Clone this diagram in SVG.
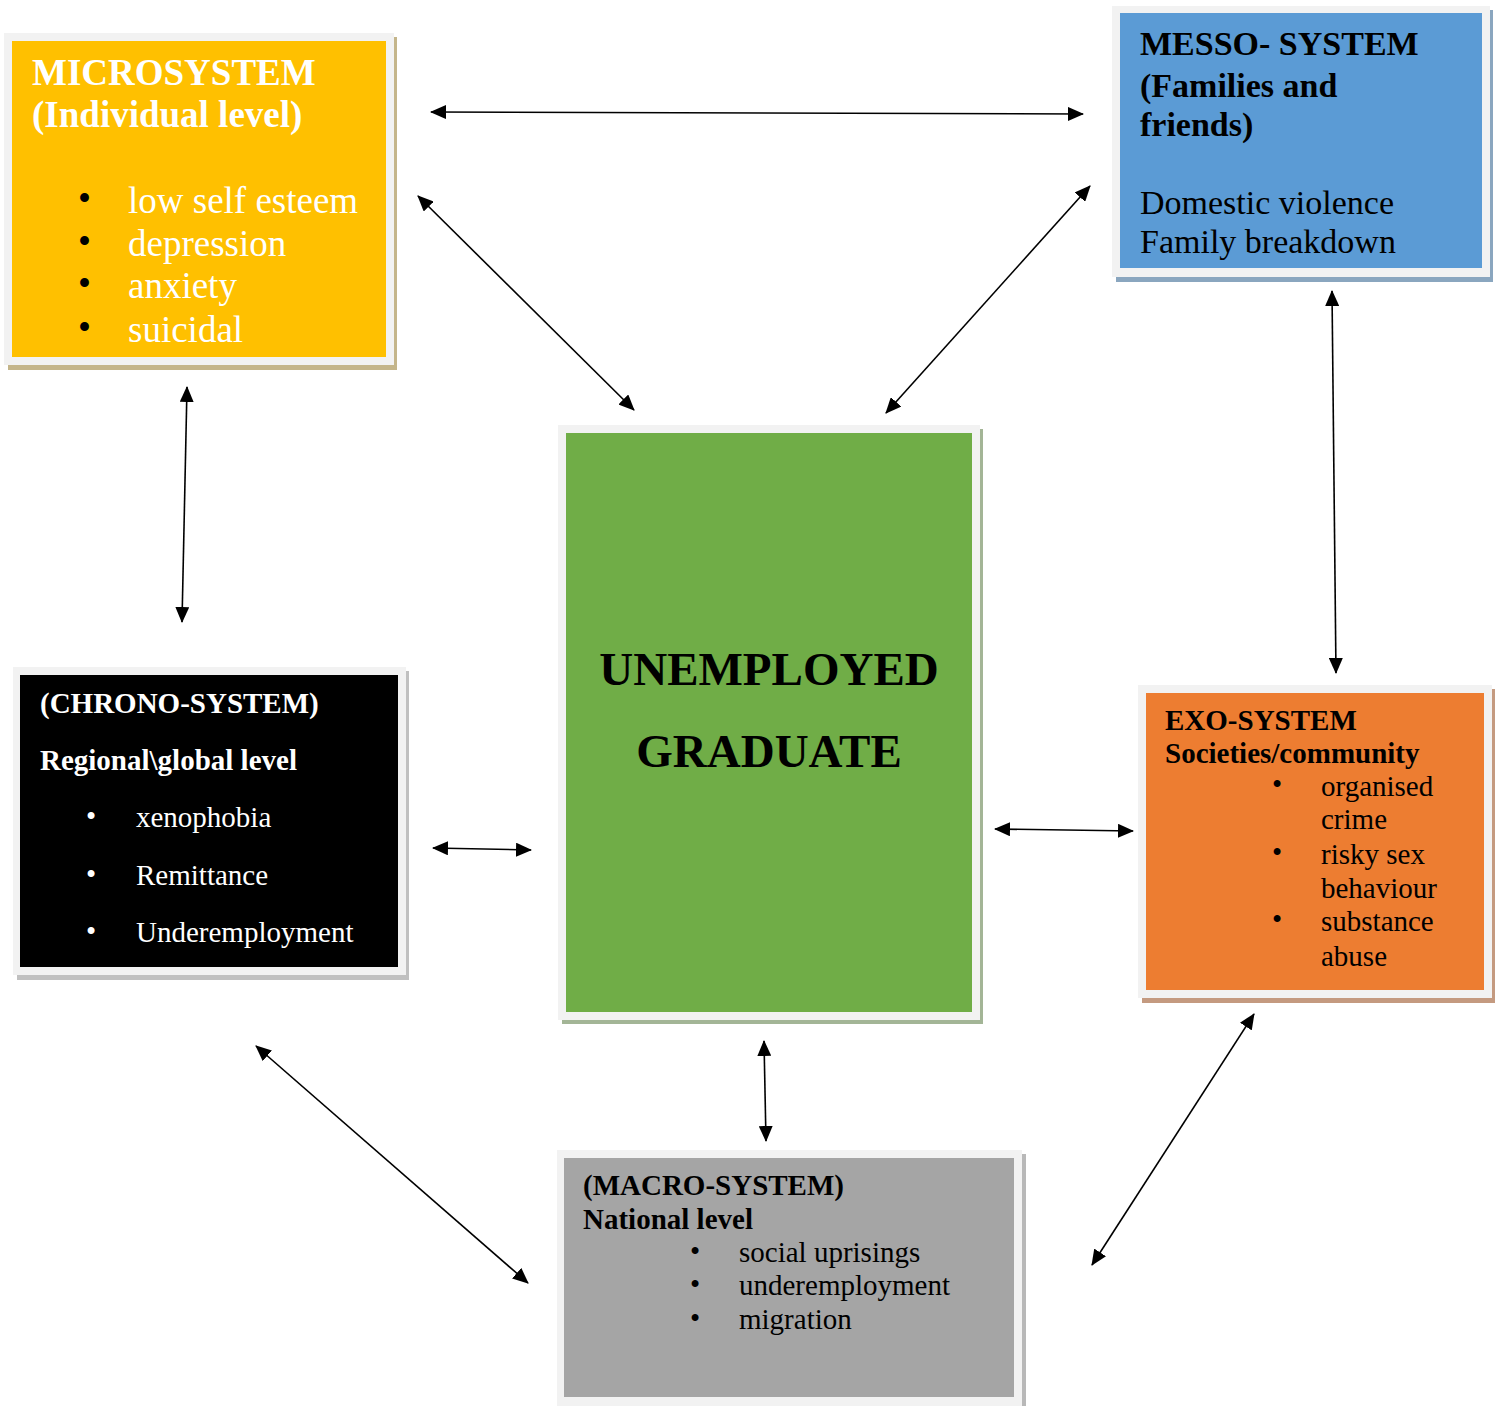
<svg xmlns="http://www.w3.org/2000/svg" width="1499" height="1406" viewBox="0 0 1499 1406">
<style>
text{font-family:"Liberation Serif","Times New Roman",serif}
.b{font-weight:bold}
.w{fill:#fff}
.k{fill:#000}
.frame{fill:#f2f2f2}
.conn line{stroke:#000;stroke-width:1.6;fill:none;marker-start:url(#ah);marker-end:url(#ah)}
</style>
<defs>
<marker id="ah" viewBox="0 0 16 14" markerWidth="16" markerHeight="14" refX="15" refY="7" orient="auto-start-reverse" markerUnits="userSpaceOnUse">
<path d="M0,0 L16,7 L0,14 z" fill="#000"/>
</marker>
</defs>
<rect width="1499" height="1406" fill="#fff"/>

<g id="micro">
<rect x="8" y="37" width="389" height="333" fill="#c4b58a"/>
<rect class="frame" x="4" y="33" width="390" height="332"/>
<rect x="12" y="41" width="374" height="316" fill="#ffc000"/>
<text class="b w" x="32" y="85" font-size="37">MICROSYSTEM</text>
<text class="b w" x="32" y="127" font-size="37">(Individual level)</text>
<g font-size="37">
<text class="k" x="78" y="211">•</text><text class="w" x="128" y="213">low self esteem</text>
<text class="k" x="78" y="254">•</text><text class="w" x="128" y="256">depression</text>
<text class="k" x="78" y="296">•</text><text class="w" x="128" y="298">anxiety</text>
<text class="k" x="78" y="340">•</text><text class="w" x="128" y="342">suicidal</text>
</g>
</g>

<g id="messo">
<rect x="1116" y="10" width="377" height="272" fill="#8aa6bf"/>
<rect class="frame" x="1112" y="6" width="378" height="271"/>
<rect x="1120" y="13" width="362" height="255" fill="#5b9bd5"/>
<text class="b k" x="1140" y="55" font-size="34">MESSO- SYSTEM</text>
<text class="b k" x="1140" y="97" font-size="34">(Families and</text>
<text class="b k" x="1140" y="136" font-size="34">friends)</text>
<text class="k" x="1140" y="214" font-size="34">Domestic violence</text>
<text class="k" x="1140" y="253" font-size="34">Family breakdown</text>
</g>

<g id="graduate">
<rect x="562" y="429" width="421" height="595" fill="#a3b596"/>
<rect class="frame" x="558" y="425" width="422" height="595"/>
<rect x="566" y="433" width="406" height="579" fill="#70ad47"/>
<text class="b k" x="769" y="685" font-size="47" text-anchor="middle">UNEMPLOYED</text>
<text class="b k" x="769" y="767" font-size="47" text-anchor="middle">GRADUATE</text>
</g>

<g id="chrono">
<rect x="17" y="671" width="392" height="309" fill="#c0c0c0"/>
<rect class="frame" x="13" y="667" width="393" height="308"/>
<rect x="20" y="675" width="378" height="292" fill="#000"/>
<text class="b w" x="40" y="713" font-size="29">(CHRONO-SYSTEM)</text>
<text class="b w" x="40" y="770" font-size="29">Regional\global level</text>
<g font-size="29" class="w">
<text x="86" y="826">•</text><text x="136" y="827">xenophobia</text>
<text x="86" y="884">•</text><text x="136" y="885">Remittance</text>
<text x="86" y="941">•</text><text x="136" y="942">Underemployment</text>
</g>
</g>

<g id="exo">
<rect x="1142" y="689" width="353" height="314" fill="#c49a80"/>
<rect class="frame" x="1138" y="685" width="354" height="313"/>
<rect x="1146" y="693" width="338" height="297" fill="#ed7d31"/>
<text class="b k" x="1165" y="730" font-size="29">EXO-SYSTEM</text>
<text class="b k" x="1165" y="763" font-size="29">Societies/community</text>
<g font-size="29" class="k">
<text x="1272" y="794">•</text><text x="1321" y="796">organised</text>
<text x="1321" y="829">crime</text>
<text x="1272" y="862">•</text><text x="1321" y="864">risky sex</text>
<text x="1321" y="898">behaviour</text>
<text x="1272" y="929">•</text><text x="1321" y="931">substance</text>
<text x="1321" y="966">abuse</text>
</g>
</g>

<g id="macro">
<rect x="561" y="1154" width="465" height="256" fill="#b8b8b8"/>
<rect class="frame" x="557" y="1150" width="465" height="260"/>
<rect x="564" y="1158" width="450" height="239" fill="#a5a5a5"/>
<text class="b k" x="583" y="1195" font-size="29">(MACRO-SYSTEM)</text>
<text class="b k" x="583" y="1229" font-size="29">National level</text>
<g font-size="29" class="k">
<text x="690" y="1261">•</text><text x="739" y="1262">social uprisings</text>
<text x="690" y="1294">•</text><text x="739" y="1295">underemployment</text>
<text x="690" y="1328">•</text><text x="739" y="1329">migration</text>
</g>
</g>

<g id="connectors" class="conn">
<line x1="431" y1="112" x2="1083" y2="114"/>
<line x1="418" y1="196" x2="634" y2="410"/>
<line x1="1090" y1="186" x2="886" y2="413"/>
<line x1="187" y1="387" x2="182" y2="622"/>
<line x1="1332" y1="291" x2="1336" y2="673"/>
<line x1="433" y1="848" x2="531" y2="850"/>
<line x1="995" y1="829" x2="1133" y2="831"/>
<line x1="764" y1="1041" x2="766" y2="1141"/>
<line x1="256" y1="1046" x2="528" y2="1283"/>
<line x1="1254" y1="1014" x2="1092" y2="1265"/>
</g>
</svg>
